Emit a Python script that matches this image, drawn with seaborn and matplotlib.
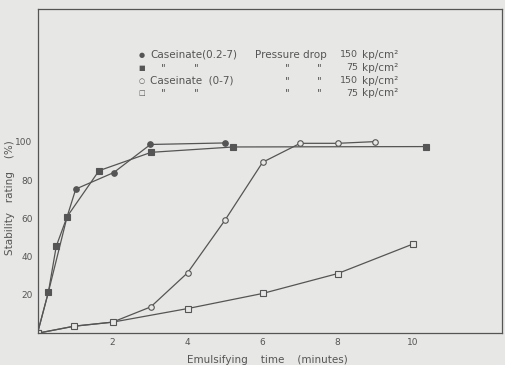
import numpy as np
import pandas as pd
import matplotlib
matplotlib.use('Agg')
import matplotlib.pyplot as plt
import seaborn as sns

# 酪蛋白酸盐(0.2-7), 150 kp/cm2
t_a = [0, 0.29, 0.79, 1.02, 2.03, 3.01, 5.0]
s_a = [0, 21.5, 61, 75.4, 84, 98.7, 99.5]
# 酪蛋白酸盐(0.2-7), 75 kp/cm2
t_b = [0, 0.29, 0.5, 0.79, 1.64, 3.03, 5.22, 10.36]
s_b = [0, 21.5, 45.5, 61, 85, 94.6, 97.4, 97.6]
# 酪蛋白酸盐(0-7), 150 kp/cm2
t_c = [0, 0.98, 2.0, 3.02, 4.0, 5.0, 6.0, 7.0, 8.0, 9.0]
s_c = [0, 3.7, 5.8, 13.8, 31.6, 59.2, 89.4, 99.3, 99.3, 100.2]
# 酪蛋白酸盐(0-7), 75 kp/cm2
t_d = [0, 0.98, 2.0, 4.0, 6.0, 8.0, 10.0]
s_d = [0, 3.7, 5.8, 12.9, 20.8, 31.2, 46.6]

x_ticks = [2, 4, 6, 8, 10]
y_ticks = [20, 40, 60, 80, 100]

BG = '#e7e7e5'
INK = '#555555'


def main():
    sns.set_theme(style='white')
    plt.rcParams['font.family'] = ['DejaVu Sans']

    fig = plt.figure(figsize=(5.05, 3.65), dpi=100, facecolor=BG)
    ax = fig.add_axes([37.5 / 505, 1 - 333.25 / 365, 464.5 / 505, 324 / 365])
    ax.set_facecolor(BG)

    series = [
        (t_a, s_a, 'o', INK),
        (t_b, s_b, 's', INK),
        (t_c, s_c, 'o', BG),
        (t_d, s_d, 's', BG),
    ]
    for t, s, m, fc in series:
        df = pd.DataFrame({'t': t, 's': s})
        sns.lineplot(data=df, x='t', y='s', ax=ax, sort=False, estimator=None,
                     color=INK, linewidth=0.9, marker=m, markersize=4,
                     markerfacecolor=fc, markeredgecolor=INK, markeredgewidth=0.8)

    ax.set_xlim(0, 12.38)
    ax.set_ylim(0, 169.4)
    ax.set_xticks(x_ticks)
    ax.set_yticks(y_ticks)
    ax.tick_params(axis='both', direction='inout', length=5, width=0.8,
                   color=INK, labelcolor=INK, labelsize=6.5, pad=1)
    for sp in ax.spines.values():
        sp.set_color(INK)
        sp.set_linewidth(0.9)

    ax.set_xlabel('Emulsifying    time    (minutes)', fontsize=7.5, color=INK)
    ax.set_ylabel('Stability   rating    (%)', fontsize=7.5, color=INK)
    ax.xaxis.set_label_coords(0.494, -0.067)
    ax.yaxis.set_label_coords(-0.048, 0.42)

    # 图例(表格形式)
    kw = dict(transform=ax.transAxes, fontsize=7.5, color=INK, va='center')
    rows = [0.859, 0.819, 0.779, 0.741]
    marks = ['●', '■', '○', '□']
    for r, mk in zip(rows, marks):
        ax.text(0.225, r, mk, ha='center', **dict(kw, fontsize=5))
    ax.text(0.242, rows[0], 'Caseinate(0.2-7)', ha='left', **kw)
    ax.text(0.468, rows[0], 'Pressure drop', ha='left', **kw)
    ax.text(0.242, rows[2], 'Caseinate  (0-7)', ha='left', **kw)
    for r in [rows[1], rows[3]]:
        ax.text(0.270, r, '"', ha='center', **kw)
        ax.text(0.343, r, '"', ha='center', **kw)
    for r in rows[1:]:
        ax.text(0.537, r, '"', ha='center', **kw)
        ax.text(0.606, r, '"', ha='center', **kw)
    for r, p in zip(rows, ['150', '75', '150', '75']):
        ax.text(0.690, r, p, ha='right', **dict(kw, fontsize=6.8))
        ax.text(0.699, r, 'kp/cm²', ha='left', **kw)

    fig.savefig('out.png', dpi=100, facecolor=BG)
    plt.close(fig)


if __name__ == "__main__":
    main()
